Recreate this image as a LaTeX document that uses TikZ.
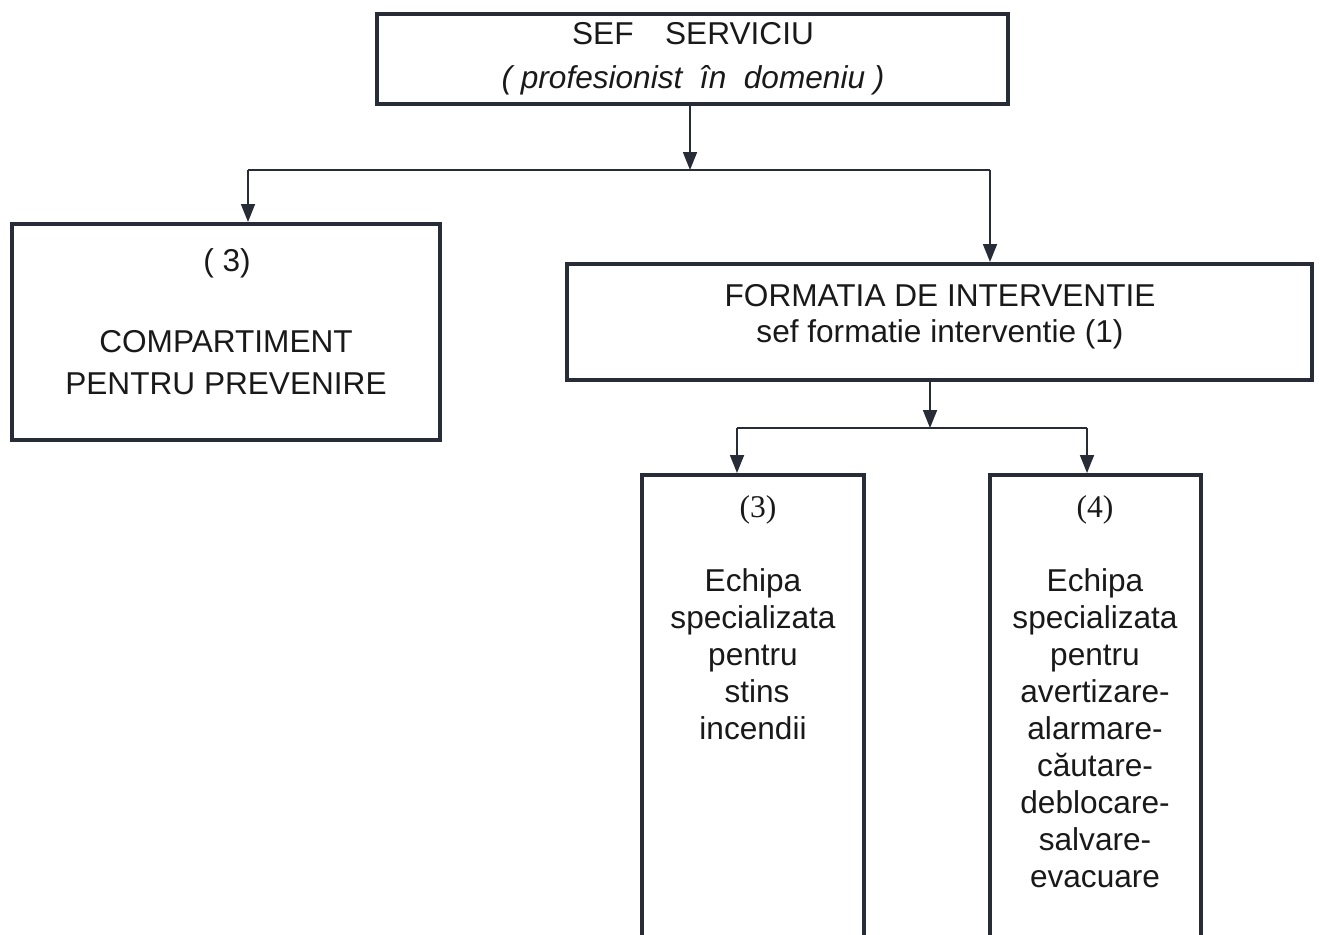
\documentclass[tikz,border=0pt]{standalone}
\usepackage{fontspec}
\setmainfont{Liberation Sans}
\newfontfamily\numfont{Liberation Serif}
\usepackage{tikz}
\usetikzlibrary{arrows.meta}
\usepackage{xcolor}
\definecolor{ink}{RGB}{40,44,54}
\tikzset{
    unitbox/.style={draw=ink, line width=2pt, rectangle, inner sep=0pt},
    boxtext/.style={align=center, inner sep=0pt, text=black!90, font=\fontsize{15.8}{#1}\selectfont},
    boxtext/.default=18.5,
    numtext/.style={inner sep=0pt, text=black!90, font=\numfont\fontsize{15.8}{18.5}\selectfont},
    link/.style={draw=ink, line width=0.9pt},
    linkarrow/.style={link, -{Triangle[width=7pt,length=9pt]}}
}

\begin{document}
\begin{tikzpicture}[x=0.5pt, y=-0.5pt]
    \useasboundingbox (0,0) rectangle (1320,934);
    \clip (0,0) rectangle (1320,934);

    \node[unitbox, minimum width=315.5pt, minimum height=45pt](chief) at (692.5,59) {};
    \node[boxtext=22](chieftext) at (693,59) {SEF\quad SERVICIU\\\itshape ( profesionist\ \ în\ \ domeniu )};

    \node[unitbox, minimum width=214pt, minimum height=108pt](prev) at (226,332) {};
    \node[boxtext](prevnr) at (227,263) {( 3)};
    \node[boxtext=21](prevtext) at (226,363) {COMPARTIMENT\\PENTRU PREVENIRE};

    \node[unitbox, minimum width=372.5pt, minimum height=58pt](squad) at (939.5,322) {};
    \node[boxtext=18](squadtext) at (940,317) {FORMATIA DE INTERVENTIE\\sef formatie interventie (1)};

    \node[unitbox, minimum width=111pt, minimum height=242.5pt](fire) at (753,717.5) {};
    \node[numtext](firenr) at (758,510) {(3)};
    \node[boxtext](firetext) at (753,654) {Echipa\\specializata\\pentru\\\hspace*{4pt}stins\\incendii};

    \node[unitbox, minimum width=105.5pt, minimum height=242.5pt](rescue) at (1095.5,717.5) {};
    \node[numtext](rescuenr) at (1095,510) {(4)};
    \node[boxtext](rescuetext) at (1095,728) {Echipa\\specializata\\pentru\\avertizare-\\alarmare-\\căutare-\\deblocare-\\salvare-\\evacuare};

    \coordinate (fork) at (690,170);
    \coordinate (forkl) at (248,170);
    \coordinate (forkr) at (990,170);
    \draw[linkarrow] (chief.south -| fork) -- (fork);
    \draw[link] (forkl) -- (forkr);
    \draw[linkarrow] (forkl) -- (forkl |- prev.north);
    \draw[linkarrow] (forkr) -- (forkr |- squad.north);

    \coordinate (split) at (930,428);
    \coordinate (splitl) at (737,428);
    \coordinate (splitr) at (1087,428);
    \draw[linkarrow] (squad.south -| split) -- (split);
    \draw[link] (splitl) -- (splitr);
    \draw[linkarrow] (splitl) -- (splitl |- fire.north);
    \draw[linkarrow] (splitr) -- (splitr |- rescue.north);
\end{tikzpicture}
\end{document}
